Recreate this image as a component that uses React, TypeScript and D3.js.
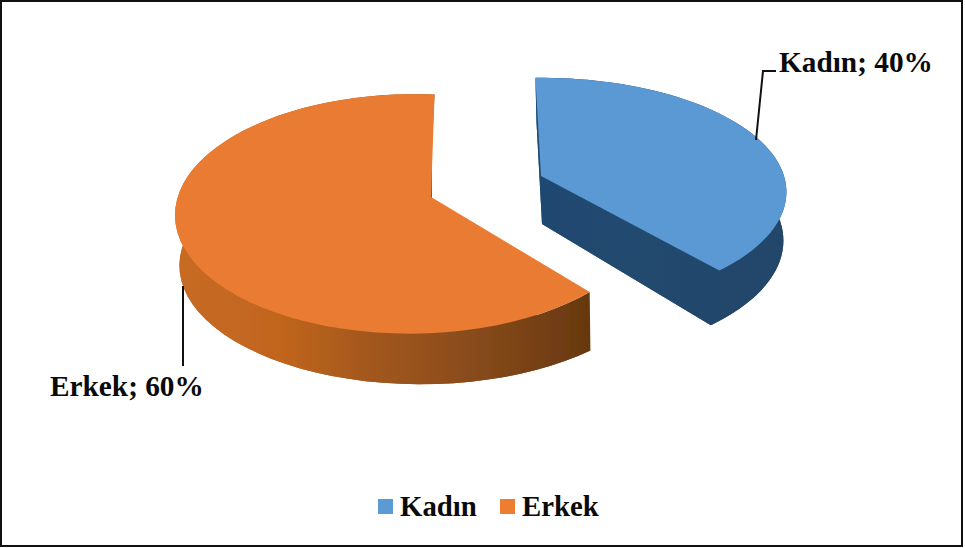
import * as d3 from "d3"

const categories = ["Kadın", "Erkek"]
const shares = [40, 60]
const labels = ["Kadın; 40%", "Erkek; 60%"]
const colors = ["#5b9bd5", "#ed7d31"]
const topColors = ["#5a99d3", "#e97b30"]

const width = 965
const height = 548
const rad = Math.PI / 180

// how much nearer the viewer the front edge of the pie is
const tilt = 0.1405

type Face = {
  cx: number
  cy: number
  r: number
  b: number
  lean: number // sideways perspective
  from: number // degrees added to the slice's start
  to: number // degrees added to the slice's end
}

// top and bottom face of each exploded slice, in screen pixels
const faces: { top: Face; bottom: Face; cuts: boolean }[] = [
  {
    top: { cx: 541, cy: 176, r: 243, b: 112, lean: 0, from: -1.5, to: -5 },
    bottom: { cx: 542, cy: 224, r: 239, b: 116, lean: 0, from: -1.5, to: -3 },
    cuts: true,
  },
  {
    top: { cx: 431, cy: 197, r: 233, b: 117, lean: -0.08, from: -4, to: 1 },
    bottom: { cx: 432, cy: 248, r: 240, b: 117, lean: -0.04, from: -1, to: 0 },
    cuts: false,
  },
]

function project(face: Face, angle: number): [number, number] {
  const x = Math.sin(angle)
  const y = -Math.cos(angle)
  const w = 1 - tilt * y - face.lean * x
  return [face.cx + (face.r * x) / w, face.cy + (face.b * y) / w]
}

function rim(face: Face, start: number, end: number) {
  const a0 = start + face.from * rad
  const a1 = end + face.to * rad
  return d3.range(0, 61).map((i) => project(face, a0 + ((a1 - a0) * i) / 60))
}

const line = d3.line().curve(d3.curveLinear)

export default function App() {
  const slices = d3
    .pie<number>()
    .sort(null)
    .startAngle(0)
    .endAngle(2 * Math.PI)(shares)

  return (
    <svg
      width={width}
      height={height}
      style={{ position: "absolute", left: 0, top: 0, background: "#fff" }}
      fontFamily="'Liberation Serif', serif"
      fontWeight="bold"
    >
      <defs>
        <filter id="soft" x="-5%" y="-5%" width="110%" height="110%">
          <feGaussianBlur stdDeviation="0.6" />
        </filter>
        <linearGradient id="side0" gradientUnits="userSpaceOnUse" x1="535" x2="786" y1="0" y2="0">
          <stop offset="0" stopColor="#1f4a72" />
          <stop offset="1" stopColor="#224669" />
        </linearGradient>
        <linearGradient id="side1" gradientUnits="userSpaceOnUse" x1="180" x2="590" y1="0" y2="0">
          <stop offset="0" stopColor="#c76a22" />
          <stop offset="0.25" stopColor="#c0651f" />
          <stop offset="0.45" stopColor="#a4581f" />
          <stop offset="0.7" stopColor="#8a4c1c" />
          <stop offset="1" stopColor="#67380f" />
        </linearGradient>
      </defs>

      <rect x={1} y={1} width={961} height={545} fill="#fff" stroke="#111" strokeWidth={2} />

      <g filter="url(#soft)">
        {slices.map((s, i) => {
          const { top, bottom, cuts } = faces[i]
          const topRim = rim(top, s.startAngle, s.endAngle)
          const bottomRim = rim(bottom, s.startAngle, s.endAngle)
          const topCenter: [number, number] = [top.cx, top.cy]
          const bottomCenter: [number, number] = [bottom.cx, bottom.cy]
          const fill = `url(#side${i})`
          const walls = [[...topRim, ...[...bottomRim].reverse()]]
          if (cuts) {
            walls.push([topCenter, topRim[0], bottomRim[0], bottomCenter])
            walls.push([topCenter, topRim[60], bottomRim[60], bottomCenter])
          }
          return (
            <g key={categories[i]}>
              <path d={line([bottomCenter, ...bottomRim])! + "Z"} fill={fill} />
              {walls.map((w, j) => (
                <path key={j} d={line(w as [number, number][])! + "Z"} fill={fill} />
              ))}
              <path d={line([topCenter, ...topRim])! + "Z"} fill={topColors[i]} />
            </g>
          )
        })}
      </g>

      <polyline points="776,71 763,71 756,140" fill="none" stroke="#111" strokeWidth={2} />
      <line x1={183} y1={286} x2={183} y2={366} stroke="#111" strokeWidth={2} />

      <text x={779} y={72} fontSize={29.3} fill="#0a0a0a">{labels[0]}</text>
      <text x={50} y={396} fontSize={29.3} fill="#0a0a0a">{labels[1]}</text>

      <rect x={378} y={499} width={15} height={15} fill={colors[0]} />
      <text x={400} y={516} fontSize={28.8} fill="#0a0a0a">{categories[0]}</text>
      <rect x={500} y={499} width={15} height={15} fill={colors[1]} />
      <text x={522} y={516} fontSize={28.8} fill="#0a0a0a">{categories[1]}</text>
    </svg>
  )
}
